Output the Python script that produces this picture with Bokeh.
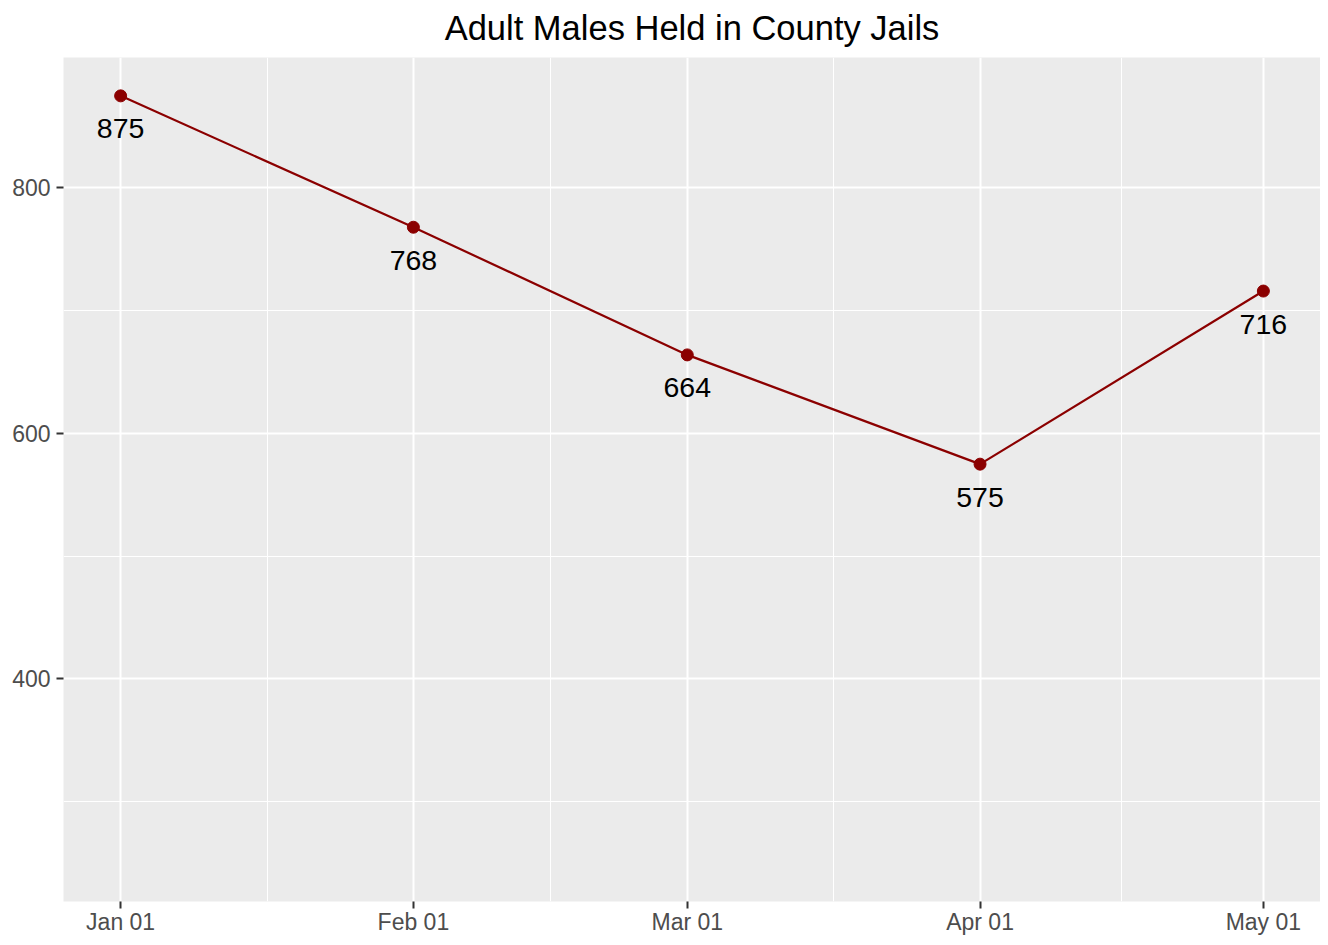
import datetime as dt
from bokeh.plotting import figure
from bokeh.models import ColumnDataSource, Range1d, FixedTicker
from bokeh.core.properties import value
from bokeh.embed import file_html
from bokeh.resources import INLINE

# ---- data ----
dates = ["2020-01-01", "2020-02-01", "2020-03-01", "2020-04-01", "2020-05-01"]
counts = [875, 768, 664, 575, 716]
tick_labels = ["Jan 01", "Feb 01", "Mar 01", "Apr 01", "May 01"]
y_ticks = [400, 600, 800]
y_minor = [300, 500, 700]
y_limits = [250, 875]
title_text = "Adult Males Held in County Jails"

def ms(s):
    d = dt.datetime.strptime(s, "%Y-%m-%d")
    return (d - dt.datetime(1970, 1, 1)).total_seconds() * 1000.0

xs = [ms(d) for d in dates]
labels = [str(c) for c in counts]
src = ColumnDataSource(dict(x=xs, y=counts, lab=labels))

span_x = xs[-1] - xs[0]
span_y = y_limits[1] - y_limits[0]
xr = Range1d(xs[0] - 0.05 * span_x, xs[-1] + 0.05 * span_x)
yr = Range1d(y_limits[0] - 0.05 * span_y, y_limits[1] + 0.05 * span_y)

FONT = "Liberation Sans"

p = figure(width=1320, height=937, x_range=xr, y_range=yr,
           x_axis_type="datetime", output_backend="svg", toolbar_location=None,
           title=title_text,
           min_border_left=63, min_border_right=0, min_border_top=0, min_border_bottom=30)

p.title.text_font = FONT
p.title.text_font_size = "34.5px"
p.title.text_font_style = "normal"
p.title.text_color = "black"
p.title.align = "center"
p.title.vertical_align = "top"
p.title.standoff = 17

p.background_fill_color = "#EBEBEB"
p.border_fill_color = "white"
p.outline_line_color = None

x_minor = [(xs[i] + xs[i + 1]) / 2 for i in range(len(xs) - 1)]
p.xaxis.ticker = FixedTicker(ticks=xs, minor_ticks=x_minor)
p.xaxis.major_label_overrides = {x: t for x, t in zip(xs, tick_labels)}
p.yaxis.ticker = FixedTicker(ticks=y_ticks, minor_ticks=y_minor)

for ax in (p.xaxis, p.yaxis):
    ax.axis_line_color = None
    ax.major_tick_line_color = "#333333"
    ax.major_tick_line_width = 2
    ax.major_tick_out = 7
    ax.major_tick_in = 0
    ax.minor_tick_line_color = None
    ax.major_label_text_font = FONT
    ax.major_label_text_font_size = "23px"
    ax.major_label_text_color = "#4D4D4D"
p.xaxis.major_label_standoff = 0
p.yaxis.major_label_standoff = 6

for g in (p.xgrid, p.ygrid):
    g.grid_line_color = "white"
    g.grid_line_width = 2
    g.minor_grid_line_color = "white"
    g.minor_grid_line_width = 1

p.line("x", "y", source=src, line_color="#8B0000", line_width=2.2)
p.scatter("x", "y", source=src, size=12, fill_color="#8B0000", line_color="#8B0000")
p.text("x", "y", text="lab", source=src, text_font=value(FONT), text_font_size="28.5px",
       text_color="black", text_align="center", text_baseline="middle", y_offset=33)

open("out.html", "w").write(file_html(p, INLINE))
